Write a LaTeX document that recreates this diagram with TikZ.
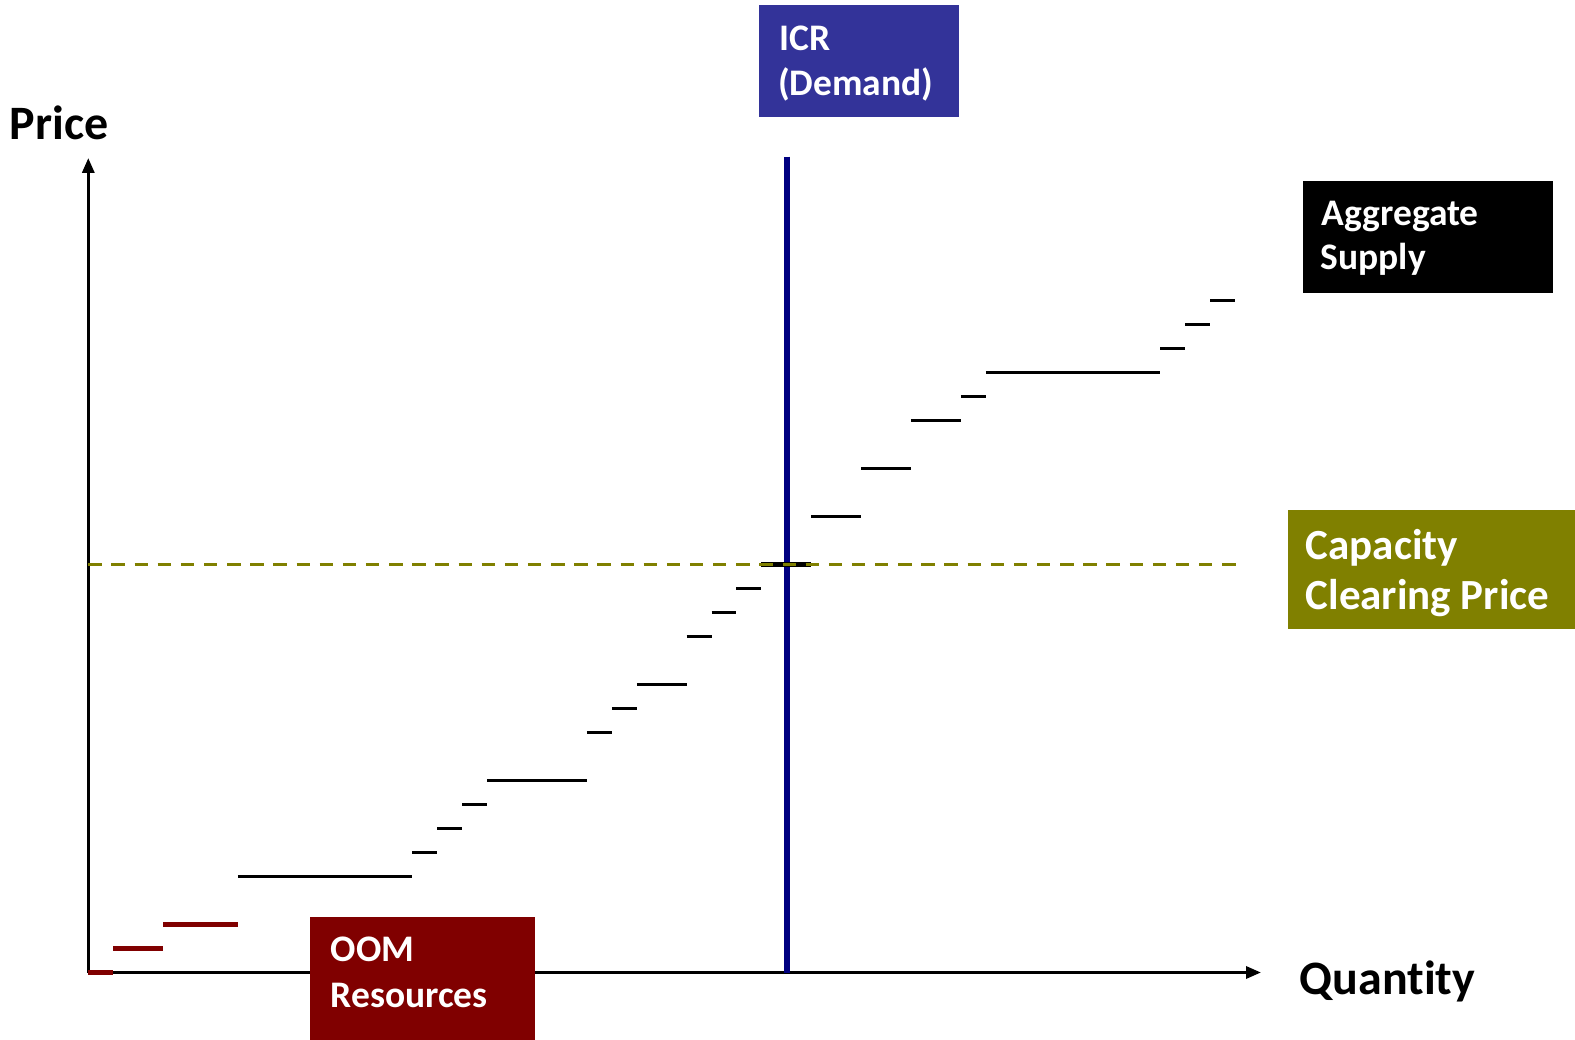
\documentclass[tikz,border=0pt]{standalone}
\usepackage{fontspec}
\setmainfont{Carlito}[Ligatures={NoCommon},RawFeature={-liga;-clig;-dlig}]
\usetikzlibrary{arrows.meta}
\definecolor{icrblue}{HTML}{333399}
\definecolor{navyline}{HTML}{000080}
\definecolor{olivebox}{HTML}{808000}
\definecolor{maroonbox}{HTML}{800000}
\begin{document}
\begin{tikzpicture}[x=1pt,y=-1pt,
  axisline/.style={line width=3.2pt,-{Triangle[length=15pt,width=12pt]}},
  stepline/.style={line width=3.2pt,black},
  oomline/.style={line width=5pt,maroonbox},
  boxshape/.style={anchor=north west,inner sep=0pt,draw=none},
  boxtext/.style={anchor=base west,inner sep=0pt,text=white,font=\bfseries\fontsize{37.5}{45}\selectfont},
  axislabel/.style={anchor=base west,inner sep=0pt,font=\bfseries\fontsize{48}{56}\selectfont}]
\useasboundingbox (0,0) rectangle (1575,1040);
\fill[white] (0,0) rectangle (1575,1040);

% axes
\coordinate (O) at (88.3,972.5);
\coordinate (ytip) at (88.3,158);
\coordinate (xtip) at (1261,972.5);
\draw[axisline] (O) -- (ytip);
\draw[axisline] (O) -- (xtip);

% ICR demand line
\coordinate (icrtop) at (787,156.7);
\coordinate (icrbot) at (787,972.5);
\draw[line width=6pt,navyline] (icrtop) -- (icrbot);

% supply steps (OOM, red)
\foreach \a/\b/\n in {0/1/0,1/3/1,3/6/2}
  \draw[oomline] ({88.3+\a*24.93},{972.7-\n*24}) -- ({88.3+\b*24.93},{972.7-\n*24});
% supply steps (black)
\foreach \a/\b/\n in {6/13/4,13/14/5,14/15/6,15/16/7,16/20/8,20/21/10,21/22/11,22/24/12,
  24/25/14,25/26/15,26/27/16,29/31/19,31/33/21,33/35/23,35/36/24,36/43/25,43/44/26,44/45/27,45/46/28}
  \draw[stepline] ({88.3+\a*24.93},{972.7-\n*24}) -- ({88.3+\b*24.93},{972.7-\n*24});
% clearing step
\draw[line width=5.5pt,black] ({88.3+27*24.93},{972.7-17*24}) -- ({88.3+29*24.93},{972.7-17*24});

% clearing price dashed line
\coordinate (ccpl) at (88.3,564.7);
\coordinate (ccpr) at (1236,564.7);
\draw[line width=3.3pt,olivebox,dash pattern=on 13.4pt off 9.74pt] (ccpl) -- (ccpr);

% axis labels
\node[axislabel] (price) at (9.5,139.5) {Price};
\node[axislabel] (quantity) at (1299.5,994.5) {Quantity};

% ICR box
\node[boxshape,fill=icrblue,minimum width=199.5pt,minimum height=111.7pt] (icrbox) at (758.8,5) {};
\node[boxtext] (icr1) at (779,50.5) {ICR};
\node[boxtext] (icr2) at (778,95.5) {(Demand)};

% Aggregate supply box
\node[boxshape,fill=black,minimum width=250pt,minimum height=111.7pt] (asbox) at (1302.7,181) {};
\node[boxtext] (as1) at (1321.5,226) {Aggregate};
\node[boxtext] (as2) at (1320.5,270) {Supply};

% Capacity clearing price box
\node[boxshape,fill=olivebox,minimum width=288pt,minimum height=119pt] (ccpbox) at (1287.3,509.3) {};
\node[boxtext,font=\bfseries\fontsize{43}{50}\selectfont] (ccp1) at (1305.5,559) {Capacity};
\node[boxtext,font=\bfseries\fontsize{43}{50}\selectfont] (ccp2) at (1305.5,609) {Clearing Price};

% OOM box
\node[boxshape,fill=maroonbox,minimum width=225pt,minimum height=124pt] (oombox) at (310,916.7) {};
\node[boxtext] (oom1) at (330.5,961.5) {OOM};
\node[boxtext] (oom2) at (330.5,1007) {Resources};
\end{tikzpicture}
\end{document}
